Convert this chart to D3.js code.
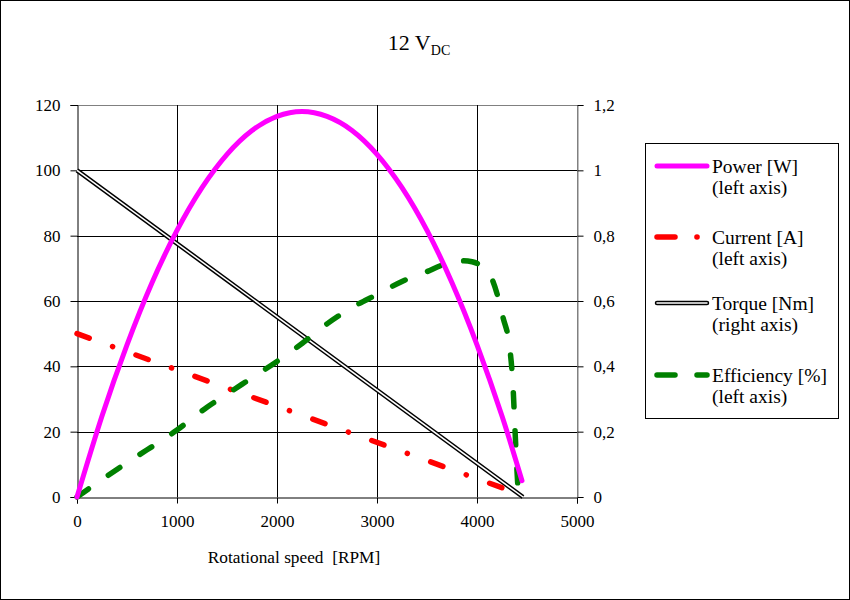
<!DOCTYPE html>
<html><head><meta charset="utf-8">
<script src="https://cdn.jsdelivr.net/npm/d3@7"></script>
</head><body style="margin:0">
<svg id="c" width="850" height="600" style="display:block;font-family:Times New Roman, Liberation Serif, serif"></svg>
<script>
const xTicks=[0,1000,2000,3000,4000,5000];
const leftTicks=[0,20,40,60,80,100,120];
const rightTicks=[0,0.2,0.4,0.6,0.8,1.0,1.2];
const rightTickLabels=["0","0,2","0,4","0,6","0,8","1","1,2"];
// Power [W] (left axis)
const powerRpm=[0,250,500,750,1000,1250,1500,1750,2000,2250,2500,2750,3000,3250,3500,3750,4000,4250,4450];
const powerW=[0,24.8,46.6,65.6,81.6,94.7,104.9,112.2,116.5,118,116.5,112.2,104.9,94.7,81.6,65.6,46.6,24.8,5];
// Current [A] (left axis)
const currentRpm=[0,4280];
const currentA=[50,2.5];
// Torque [Nm] (right axis)
const torqueRpm=[0,4460];
const torqueNm=[1.0,0.0];
// Efficiency [%] (left axis)
const effRpm=[0,130,500,1000,1300,1500,1800,2000,2250,2500,2750,3000,3250,3500,3650,3750,3850,3950,4050,4160,4260,4330,4360,4380,4400,4415];
const effPct=[0,2.8,10.5,20.5,27.5,31.5,37.5,41.5,47,53,58,62,66,69,71,72,72.3,72,70.5,66,55,45,34,20.5,8,0];
const legendNames=[["Power [W]","(left axis)"],["Current [A]","(left axis)"],["Torque [Nm]","(right axis)"],["Efficiency [%]","(left axis)"]];

const FONT="Times New Roman";
const svg=d3.select("#c");
const x=d3.scaleLinear().domain([0,5000]).range([77,577]);
const yL=d3.scaleLinear().domain([0,120]).range([497,105]);
const yR=d3.scaleLinear().domain([0,1.2]).range([497,105]);

svg.append("rect").attr("x",0.5).attr("y",0.5).attr("width",849).attr("height",599).attr("fill","#fff").attr("stroke","#000");

// title
const t=svg.append("text").attr("x",419).attr("y",50).attr("text-anchor","middle").attr("font-family",FONT).attr("font-size",22).attr("fill","#000");
t.append("tspan").text("12 V");
t.append("tspan").attr("dy",4.5).attr("font-size",14).text("DC");

// grid
const g=svg.append("g");
leftTicks.forEach(v=>{ if(v>0) g.append("line").attr("x1",77).attr("x2",577).attr("y1",Math.round(yL(v))+0.5).attr("y2",Math.round(yL(v))+0.5).attr("stroke",v===120?"#808080":"#000").attr("stroke-width",1);});
xTicks.forEach(v=>{ if(v>0) g.append("line").attr("y1",105).attr("y2",497).attr("x1",Math.round(x(v))+0.5).attr("x2",Math.round(x(v))+0.5).attr("stroke",v===5000?"#808080":"#000").attr("stroke-width",1);});

// axes
const ax=svg.append("g").attr("transform","translate(0,497.5)").call(d3.axisBottom(x).tickValues(xTicks).tickSize(6).tickPadding(11).tickFormat(d3.format("d")));
const al=svg.append("g").attr("transform","translate(77.5,0)").call(d3.axisLeft(yL).tickValues(leftTicks).tickSize(7).tickPadding(10).tickFormat(d3.format("d")));
const ar=svg.append("g").attr("transform","translate(577.5,0)").call(d3.axisRight(yR).tickValues(rightTicks).tickSize(6).tickPadding(10).tickFormat((d,i)=>rightTickLabels[i]));
[ax,al,ar].forEach(a=>{a.attr("font-family",FONT).attr("font-size",17);a.select(".domain").attr("stroke","#000");a.selectAll(".tick line").attr("stroke","#000");a.selectAll("text").attr("fill","#000");});
ar.select(".domain").attr("stroke","#808080");

svg.append("text").attr("x",294).attr("y",563).attr("text-anchor","middle").attr("font-family",FONT).attr("font-size",17.3).attr("fill","#000").text("Rotational speed\u00a0 [RPM]");

// series
const line=(xs,ys,ysc)=>d3.line().x((d,i)=>x(xs[i])).y((d,i)=>ysc(ys[i]))(xs);
svg.append("path").attr("d",line(torqueRpm,torqueNm,yR)).attr("fill","none").attr("stroke","#000").attr("stroke-width",4.5);
svg.append("path").attr("d",line(torqueRpm,torqueNm,yR)).attr("fill","none").attr("stroke","#fff").attr("stroke-width",1.5);
svg.append("path").attr("d",line(currentRpm,currentA,yL)).attr("fill","none").attr("stroke","#ff0000").attr("stroke-width",5.5).attr("stroke-linecap","round").attr("stroke-dasharray","13,24.8,0.1,24.8");
svg.append("path").attr("d",d3.line().curve(d3.curveMonotoneX).x((d,i)=>x(effRpm[i])).y((d,i)=>yL(effPct[i]))(effRpm)).attr("fill","none").attr("stroke","#008000").attr("stroke-width",5.5).attr("stroke-linecap","round").attr("stroke-dasharray","14,24");
svg.append("path").attr("d",d3.line().curve(d3.curveNatural).x((d,i)=>x(powerRpm[i])).y((d,i)=>yL(powerW[i]))(powerRpm)).attr("fill","none").attr("stroke","#ff00ff").attr("stroke-width",5).attr("stroke-linecap","round");

// legend
const L=svg.append("g");
L.append("rect").attr("x",645.5).attr("y",143.5).attr("width",193).attr("height",275).attr("fill","#fff").attr("stroke","#000");
const ly=[166,237,303,375];
legendNames.forEach((n,i)=>{
  const y=ly[i];
  if(i===0) L.append("line").attr("x1",657).attr("x2",707).attr("y1",y).attr("y2",y).attr("stroke","#ff00ff").attr("stroke-width",5).attr("stroke-linecap","round");
  if(i===1){L.append("line").attr("x1",657).attr("x2",675).attr("y1",y).attr("y2",y).attr("stroke","#ff0000").attr("stroke-width",5.5).attr("stroke-linecap","round");
    L.append("circle").attr("cx",697).attr("cy",y).attr("r",2.8).attr("fill","#ff0000");}
  if(i===2){L.append("line").attr("x1",657).attr("x2",707).attr("y1",y).attr("y2",y).attr("stroke","#000").attr("stroke-width",4.5).attr("stroke-linecap","round");
    L.append("line").attr("x1",657).attr("x2",707).attr("y1",y).attr("y2",y).attr("stroke","#fff").attr("stroke-width",1.5).attr("stroke-linecap","round");}
  if(i===3){L.append("line").attr("x1",657).attr("x2",675).attr("y1",y).attr("y2",y).attr("stroke","#008000").attr("stroke-width",5.5).attr("stroke-linecap","round");
    L.append("line").attr("x1",697).attr("x2",707).attr("y1",y).attr("y2",y).attr("stroke","#008000").attr("stroke-width",5.5).attr("stroke-linecap","round");}
  L.append("text").attr("x",712).attr("y",y+6.5).attr("font-family",FONT).attr("font-size",19.5).attr("fill","#000").text(n[0]);
  L.append("text").attr("x",712).attr("y",y+27.5).attr("font-family",FONT).attr("font-size",19.5).attr("fill","#000").text(n[1]);
});
</script>
</body></html>
